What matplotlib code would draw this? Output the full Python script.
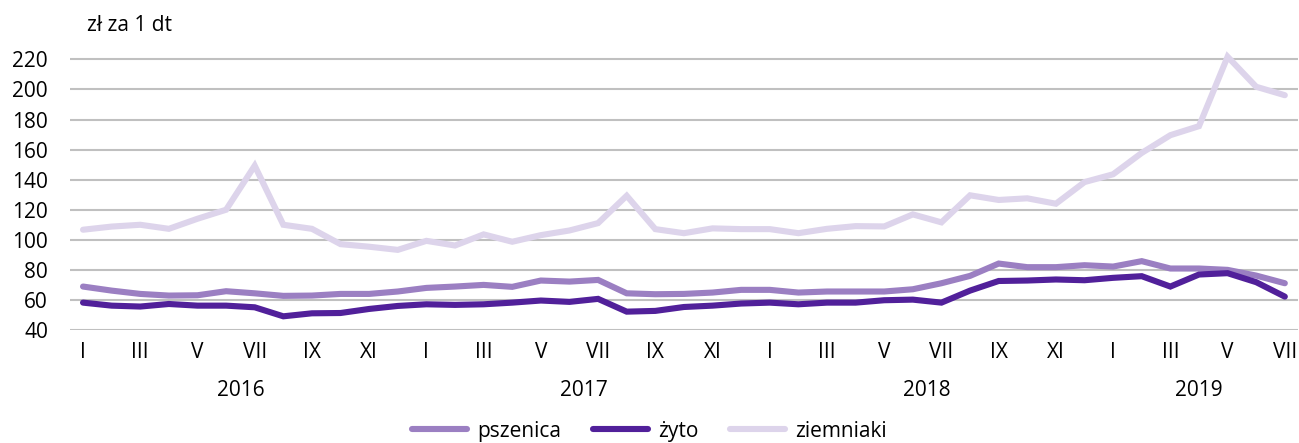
import numpy as np
import matplotlib
matplotlib.use("Agg")
import matplotlib.pyplot as plt

plt.rcParams['font.family'] = ['Open Sans', 'DejaVu Sans']

# ── Data (monthly, I 2016 – VII 2019) ──────────────────────
months = ['I', 'II', 'III', 'IV', 'V', 'VI', 'VII', 'VIII', 'IX', 'X', 'XI', 'XII']
years = ['2016', '2017', '2018', '2019']
year_counts = [12, 12, 12, 7]

pszenica = [68.9, 66.2, 64.0, 62.9, 63.1, 65.8, 64.4, 62.7, 62.9, 64.0, 64.0,
            65.6, 68.0, 68.9, 70.0, 68.7, 72.9, 72.2, 73.3, 64.4, 63.8, 64.0,
            64.9, 66.7, 66.7, 64.9, 65.6, 65.6, 65.6, 67.1, 71.1, 76.0, 84.2,
            81.8, 81.8, 83.1, 82.2, 85.8, 80.9, 80.9, 80.0, 76.2, 71.1]
zyto = [58.2, 56.2, 55.6, 57.3, 56.2, 56.2, 55.1, 49.1, 51.1, 51.3, 54.0,
        56.0, 57.1, 56.7, 57.1, 58.2, 59.6, 58.7, 60.7, 52.2, 52.7, 55.3,
        56.2, 57.6, 58.2, 57.1, 58.2, 58.2, 59.8, 60.2, 58.2, 66.2, 72.6,
        72.9, 73.6, 73.1, 74.7, 75.8, 68.9, 76.9, 77.8, 71.8, 62.2]
ziemniaki = [106.7, 108.8, 110.0, 107.3, 114.0, 120.0, 149.3, 110.0, 107.3, 97.1, 95.4,
             93.3, 99.3, 96.2, 103.6, 98.7, 103.1, 106.2, 111.1, 129.3, 107.1, 104.4,
             107.6, 107.1, 107.1, 104.4, 107.3, 109.1, 108.9, 116.9, 111.6, 129.6, 126.5,
             127.6, 124.0, 138.4, 143.6, 157.8, 169.6, 175.6, 221.8, 201.8, 196.2]

series = [('pszenica', pszenica, '#9b7fc2'),
          ('żyto', zyto, '#51209a'),
          ('ziemniaki', ziemniaki, '#ddd4eb')]

x = np.arange(len(pszenica))

# ── Figure ─────────────────────────────────────────────────
fig = plt.figure(figsize=(12.99, 4.43), dpi=100)
ax = fig.add_axes([0.054, 0.2551, 0.945, 0.6447])

for label, vals, color in series:
    ax.plot(x, vals, color=color, linewidth=4.4, label=label,
            solid_capstyle='round', solid_joinstyle='miter', zorder=3)

ax.set_xlim(-0.45, len(x) - 1 + 0.45)
ax.set_ylim(40, 230)
ax.set_yticks(range(40, 221, 20))
ax.yaxis.grid(True, color='#c0c0c0', linewidth=1.5)
ax.set_axisbelow(True)
for s in ax.spines.values():
    s.set_visible(False)

# month ticks every second month
month_labels = [months[i % 12] for i in x]
ax.set_xticks(x[::2])
ax.set_xticklabels(month_labels[::2])
ax.tick_params(axis='both', length=0, labelsize=15, colors='black')
ax.tick_params(axis='x', pad=9)
ax.tick_params(axis='y', pad=16)

# year labels under the months
start = 0
for yr, n in zip(years, year_counts):
    ax.text(start + (n - 1) / 2, -0.212, yr, transform=ax.get_xaxis_transform(),
            ha='center', va='center', fontsize=15)
    start += n

fig.text(0.067, 0.943, 'zł za 1 dt', ha='left', va='center', fontsize=15)

fig.legend(loc='center', bbox_to_anchor=(0.5, 0.027), ncol=3, frameon=False,
           fontsize=15, handlelength=2.65, handletextpad=0.5, columnspacing=1.5)

fig.savefig('out.png', dpi=100)
